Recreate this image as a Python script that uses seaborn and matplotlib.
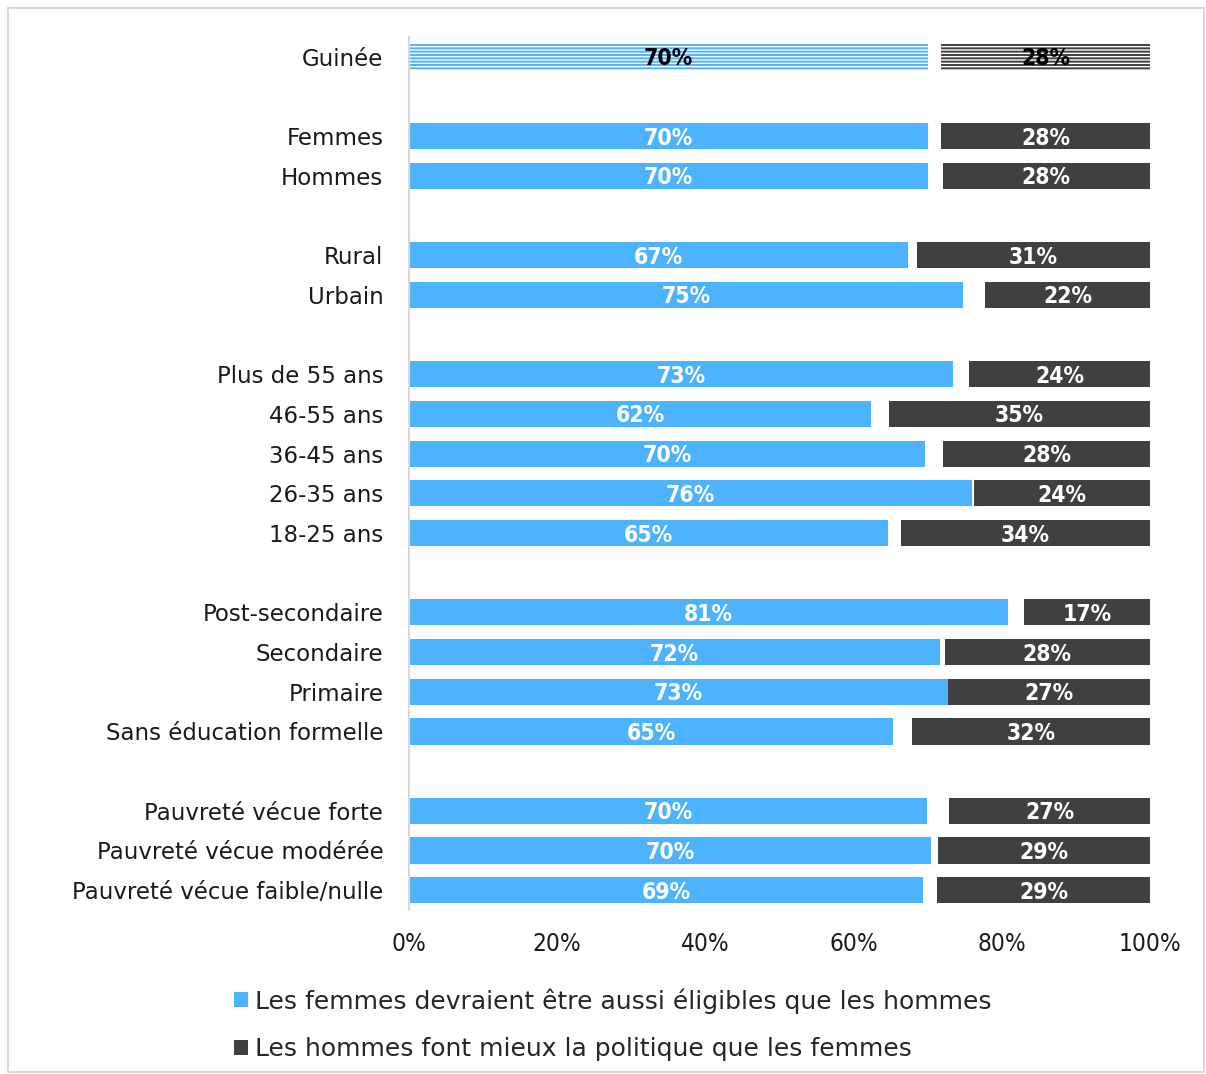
import matplotlib
matplotlib.use("Agg")
import matplotlib.pyplot as plt
import seaborn as sns
import pandas as pd
from matplotlib.patches import Patch, Rectangle

# ---- data ----
categories = ["Guinée",
              "Femmes", "Hommes",
              "Rural", "Urbain",
              "Plus de 55 ans", "46-55 ans", "36-45 ans", "26-35 ans", "18-25 ans",
              "Post-secondaire", "Secondaire", "Primaire", "Sans éducation formelle",
              "Pauvreté vécue forte", "Pauvreté vécue modérée", "Pauvreté vécue faible/nulle"]
group_sizes = [1, 2, 2, 5, 4, 3]
eligible = [70.0, 70.0, 70.0, 67.4, 74.8, 73.4, 62.4, 69.6, 76.0, 64.6,
            80.8, 71.7, 72.7, 65.3, 69.9, 70.4, 69.4]
mieux = [28.2, 28.2, 28.0, 31.4, 22.3, 24.4, 35.2, 27.9, 23.8, 33.6,
         17.0, 27.7, 27.3, 32.1, 27.1, 28.6, 28.7]
series_names = ["Les femmes devraient être aussi éligibles que les hommes",
                "Les hommes font mieux la politique que les femmes"]
xticks = [0, 20, 40, 60, 80, 100]

BLUE = "#4DB3FF"
DARK = "#404040"

# positions with a blank slot between groups
positions = []
p = 0
for gs in group_sizes:
    for _ in range(gs):
        positions.append(p)
        p += 1
    p += 1

df = pd.DataFrame({"cat": categories, "pos": positions,
                   "eligible": eligible, "mieux": mieux})

sns.set_theme(style="white")
plt.rcParams["font.family"] = ["DejaVu Sans"]
plt.rcParams["hatch.linewidth"] = 1.4

fig = plt.figure(figsize=(12.06, 10.74), dpi=100)
ax = fig.add_axes([409 / 1206, 1 - 910 / 1074, (1150 - 409) / 1206, (910 - 37) / 1074])

H = 0.66
sns.barplot(data=df, x="eligible", y="pos", orient="y", native_scale=True,
            color=BLUE, saturation=1, width=H, ax=ax, linewidth=0)
ax.barh(df["pos"], df["mieux"], left=100 - df["mieux"], height=H,
        color=DARK, linewidth=0)

# hatch the total (Guinée) bars
for patch in ax.patches:
    cy = patch.get_y() + patch.get_height() / 2
    if abs(cy - positions[0]) < 0.01:
        col = patch.get_facecolor()
        patch.set_facecolor("white")
        patch.set_edgecolor(col)
        patch.set_linewidth(0)
        patch.set_hatch("-----")

# value labels
lab_kw = dict(ha="center", va="center", fontsize=16.5, fontweight="bold",
              fontstretch="condensed")
for i, row in df.iterrows():
    c = "black" if i == 0 else "white"
    ax.text(row["eligible"] / 2, row["pos"] + 0.05, f"{round(row['eligible'])}%",
            color=c, **lab_kw)
    ax.text(100 - row["mieux"] / 2, row["pos"] + 0.05, f"{round(row['mieux'])}%",
            color=c, **lab_kw)

ax.set_xlim(0, 100)
ax.set_ylim(positions[-1] + 0.5, -0.5)
ax.set_yticks(positions)
ax.set_yticklabels(categories, fontsize=16.5, color="#1a1a1a")
ax.set_xticks(xticks)
ax.set_xticklabels([f"{t}%" for t in xticks], fontsize=17.5, color="#1a1a1a",
                   fontstretch="condensed")
ax.tick_params(axis="y", length=0, pad=18.5)
ax.tick_params(axis="x", length=0, pad=16)
ax.set_xlabel("")
ax.set_ylabel("")
for s in ["top", "right", "bottom"]:
    ax.spines[s].set_visible(False)
ax.spines["left"].set_color("#d9d9d9")
ax.spines["left"].set_linewidth(1.5)
ax.grid(False)

handles = [Patch(facecolor=BLUE, edgecolor="none"), Patch(facecolor=DARK, edgecolor="none")]
fig.legend(handles, series_names, loc="upper left",
           bbox_to_anchor=(234 / 1206, 1 - 988 / 1074), frameon=False,
           fontsize=18, handlelength=0.55, handleheight=0.55, handletextpad=0.3,
           labelspacing=0.95, borderpad=0, borderaxespad=0)

fig.patches.append(Rectangle((8 / 1206, 0.002), 1 - 10 / 1206, 1 - 8 / 1074 - 0.002,
                             transform=fig.transFigure, fill=False,
                             edgecolor="#d9d9d9", linewidth=1.5))

fig.savefig("out.png", dpi=100)
